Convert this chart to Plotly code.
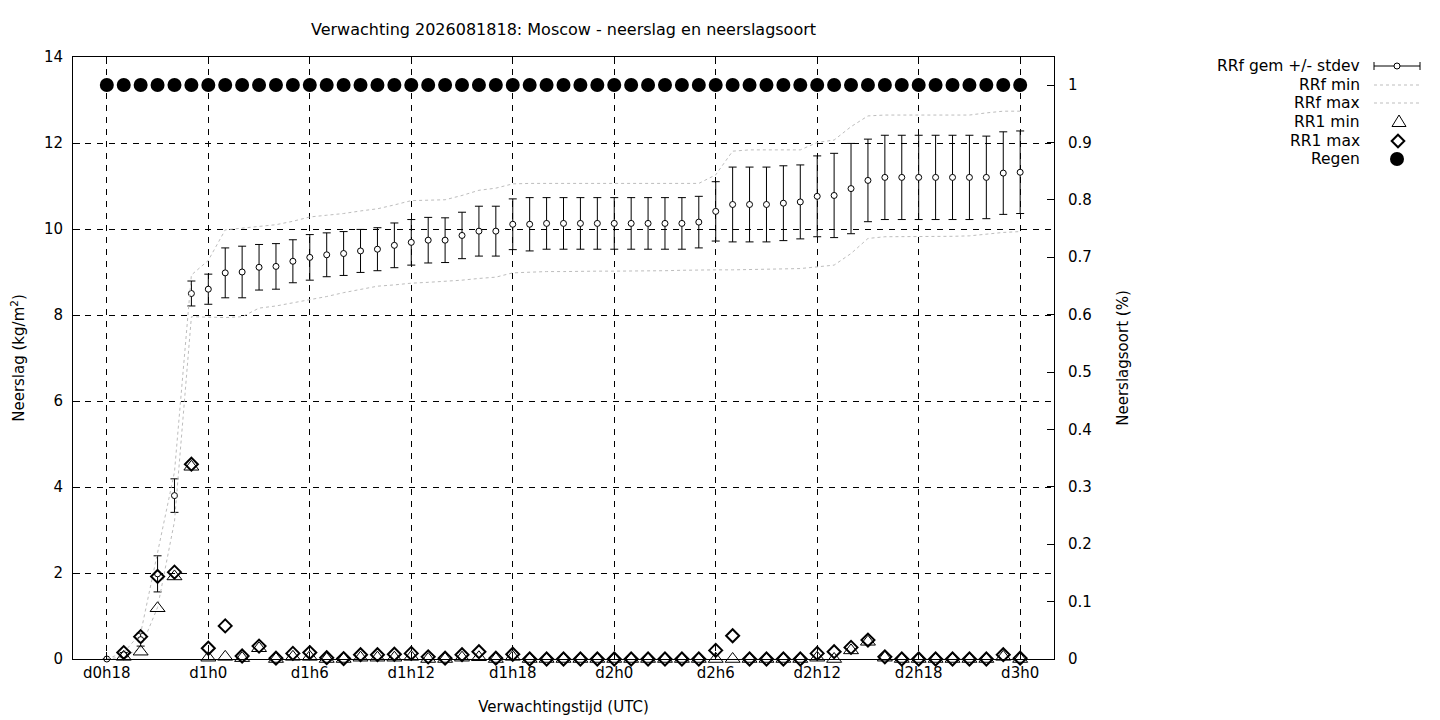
import plotly.graph_objects as go

# ---- data -------------------------------------------------------------
hours = [18, 19, 20, 21, 22, 23, 24, 25, 26, 27, 28, 29, 30, 31, 32, 33, 34, 35, 36,
         37, 38, 39, 40, 41, 42, 43, 44, 45, 46, 47, 48, 49, 50, 51, 52, 53, 54, 55,
         56, 57, 58, 59, 60, 61, 62, 63, 64, 65, 66, 67, 68, 69, 70, 71, 72]

tick_hours = [18, 24, 30, 36, 42, 48, 54, 60, 66, 72]
tick_labels = ["d0h18", "d1h0", "d1h6", "d1h12", "d1h18", "d2h0", "d2h6", "d2h12", "d2h18", "d3h0"]

rrf_mean = [0.0, 0.1, 0.45, 1.98, 3.8, 8.5, 8.6, 8.98, 9.0, 9.11, 9.13, 9.25, 9.34, 9.4,
            9.43, 9.49, 9.53, 9.62, 9.69, 9.74, 9.74, 9.85, 9.95, 9.95, 10.11, 10.11,
            10.13, 10.13, 10.13, 10.13, 10.13, 10.13, 10.13, 10.13, 10.13, 10.16, 10.41,
            10.57, 10.57, 10.57, 10.6, 10.63, 10.76, 10.78, 10.94, 11.13, 11.2, 11.2,
            11.2, 11.2, 11.2, 11.2, 11.2, 11.3, 11.32]

rrf_stdev = [0.0, 0.05, 0.15, 0.42, 0.39, 0.29, 0.35, 0.58, 0.6, 0.53, 0.53, 0.5, 0.53,
             0.51, 0.51, 0.5, 0.5, 0.52, 0.53, 0.53, 0.52, 0.54, 0.58, 0.58, 0.59, 0.62,
             0.6, 0.6, 0.6, 0.6, 0.6, 0.6, 0.6, 0.6, 0.6, 0.6, 0.69, 0.87, 0.87, 0.87,
             0.87, 0.86, 0.94, 0.98, 1.05, 0.96, 0.98, 0.98, 0.98, 0.98, 0.98, 0.98,
             0.96, 0.96, 0.96]

rrf_min = [0.0, 0.05, 0.25, 1.2, 3.2, 7.96, 7.95, 7.94, 7.96, 8.16, 8.21, 8.28, 8.35,
           8.43, 8.52, 8.6, 8.67, 8.7, 8.74, 8.76, 8.78, 8.81, 8.85, 8.88, 8.98, 9.0,
           9.01, 9.01, 9.02, 9.02, 9.02, 9.02, 9.03, 9.03, 9.04, 9.05, 9.05, 9.05, 9.06,
           9.06, 9.07, 9.08, 9.12, 9.16, 9.43, 9.78, 9.82, 9.82, 9.82, 9.82, 9.83, 9.84,
           9.88, 9.92, 9.94]

rrf_max = [0.0, 0.15, 0.6, 2.45, 4.35, 8.93, 9.27, 9.98, 10.02, 10.06, 10.1, 10.18,
           10.28, 10.32, 10.36, 10.42, 10.47, 10.56, 10.66, 10.67, 10.68, 10.78, 10.9,
           10.95, 11.05, 11.06, 11.06, 11.06, 11.06, 11.06, 11.06, 11.06, 11.06, 11.06,
           11.06, 11.06, 11.26, 11.81, 11.84, 11.84, 11.84, 11.84, 12.01, 12.07, 12.38,
           12.63, 12.65, 12.65, 12.65, 12.65, 12.65, 12.65, 12.7, 12.74, 12.74]

rr1_min = [None, 0.05, 0.17, 1.18, 1.92, 4.47, 0.03, 0.05, 0.02, 0.25, 0.0, 0.05, 0.05,
           0.0, 0.0, 0.03, 0.03, 0.03, 0.05, 0.0, 0.0, 0.03, 0.04, 0.0, 0.05, 0.0, 0.0,
           0.0, 0.0, 0.0, 0.0, 0.0, 0.0, 0.0, 0.0, 0.0, 0.0, 0.0, 0.0, 0.0, 0.0, 0.0,
           0.03, 0.0, 0.2, 0.4, 0.03, 0.0, 0.0, 0.0, 0.0, 0.0, 0.0, 0.05, 0.0]

rr1_max = [None, 0.15, 0.52, 1.92, 2.02, 4.53, 0.25, 0.77, 0.07, 0.3, 0.02, 0.13, 0.15,
           0.03, 0.01, 0.1, 0.1, 0.11, 0.13, 0.05, 0.02, 0.1, 0.17, 0.02, 0.11, 0.0,
           0.0, 0.0, 0.0, 0.0, 0.0, 0.0, 0.0, 0.0, 0.0, 0.0, 0.2, 0.54, 0.0, 0.0, 0.0,
           0.0, 0.13, 0.17, 0.27, 0.44, 0.05, 0.0, 0.0, 0.0, 0.0, 0.0, 0.0, 0.1, 0.02]

regen = [1, 1, 1, 1, 1, 1, 1, 1, 1, 1, 1, 1, 1, 1, 1, 1, 1, 1, 1, 1, 1, 1, 1, 1, 1, 1,
         1, 1, 1, 1, 1, 1, 1, 1, 1, 1, 1, 1, 1, 1, 1, 1, 1, 1, 1, 1, 1, 1, 1, 1, 1, 1,
         1, 1, 1]

legend_labels = ["RRf gem +/- stdev", "RRf min", "RRf max", "RR1 min", "RR1 max", "Regen"]

# ---- style ------------------------------------------------------------
FONT = "DejaVu Sans"
GRID_DASH = "6px,6px"
DOT_COLOR = "#bdbdbd"
OFF = 8  # page body margin offset

fig = go.Figure()

fig.add_trace(go.Scatter(
    x=hours, y=rrf_mean, mode="markers", name=legend_labels[0], cliponaxis=False,
    marker=dict(symbol="circle", size=6, color="white", line=dict(color="black", width=1)),
    error_y=dict(type="data", array=rrf_stdev, visible=True, color="black", thickness=1, width=4),
))
fig.add_trace(go.Scatter(
    x=hours, y=rrf_min, mode="lines", name=legend_labels[1],
    line=dict(color=DOT_COLOR, width=1, dash="dot"),
))
fig.add_trace(go.Scatter(
    x=hours, y=rrf_max, mode="lines", name=legend_labels[2],
    line=dict(color=DOT_COLOR, width=1, dash="dot"),
))
fig.add_trace(go.Scatter(
    x=hours, y=rr1_min, mode="markers", name=legend_labels[3], cliponaxis=False,
    marker=dict(symbol="triangle-up-open", size=13, color="black", line=dict(color="black", width=1)),
))
fig.add_trace(go.Scatter(
    x=hours, y=rr1_max, mode="markers", name=legend_labels[4], cliponaxis=False,
    marker=dict(symbol="diamond-open", size=10, color="black", line=dict(color="black", width=2)),
))
fig.add_trace(go.Scatter(
    x=hours, y=regen, mode="markers", name=legend_labels[5], yaxis="y2", cliponaxis=False,
    marker=dict(symbol="circle", size=14, color="black", line=dict(width=0)),
))

# ---- custom gnuplot-style legend (text right, sample left) -------------
L, R, T, B = 73, 1054, 57, 659   # plot area in page pixels
W, H = 1440 - OFF, 720 - OFF
def px(p):
    return (p - L) / (R - L)
def py(q):
    return (B - q) / (B - T)

rows = [66, 85, 103, 122, 141, 159]
text_right = 1362
s0, s1, sc = 1374, 1420, 1397

annotations = []
for lab, yy in zip(legend_labels, rows):
    annotations.append(dict(
        x=px(text_right), y=py(yy), xref="paper", yref="paper", text=lab,
        showarrow=False, xanchor="right", yanchor="middle",
        font=dict(family=FONT, size=15.5, color="black")))

shapes = []
shapes.append(dict(type="line", xref="paper", yref="paper", x0=px(s0), x1=px(s1),
                   y0=py(rows[0]), y1=py(rows[0]), line=dict(color="black", width=1)))
for xe in (s0, s1):
    shapes.append(dict(type="line", xref="paper", yref="paper", x0=px(xe), x1=px(xe),
                       y0=py(rows[0] - 4), y1=py(rows[0] + 4), line=dict(color="black", width=1)))
shapes.append(dict(type="circle", xref="paper", yref="paper", xsizemode="pixel", ysizemode="pixel",
                   xanchor=px(sc), yanchor=py(rows[0]), x0=-3, x1=3, y0=-3, y1=3,
                   fillcolor="white", line=dict(color="black", width=1)))
for yy in rows[1:3]:
    shapes.append(dict(type="line", xref="paper", yref="paper", x0=px(s0), x1=px(s1),
                       y0=py(yy), y1=py(yy), line=dict(color=DOT_COLOR, width=1, dash="dot")))
shapes.append(dict(type="path", xref="paper", yref="paper", xsizemode="pixel", ysizemode="pixel",
                   xanchor=px(sc + 2), yanchor=py(rows[3]),
                   path="M -7 -4.5 L 7 -4.5 L 0 7 Z", line=dict(color="black", width=1)))
shapes.append(dict(type="path", xref="paper", yref="paper", xsizemode="pixel", ysizemode="pixel",
                   xanchor=px(sc + 1), yanchor=py(rows[4]),
                   path="M -6.3 0 L 0 6.3 L 6.3 0 L 0 -6.3 Z", line=dict(color="black", width=2)))
shapes.append(dict(type="circle", xref="paper", yref="paper", xsizemode="pixel", ysizemode="pixel",
                   xanchor=px(sc), yanchor=py(rows[5]), x0=-7, x1=7, y0=-7, y1=7,
                   fillcolor="black", line=dict(color="black", width=0)))

axis_common = dict(ticks="inside", ticklen=7, tickcolor="black", tickwidth=1,
                   showline=True, linecolor="black", linewidth=1, zeroline=False,
                   tickfont=dict(family=FONT, size=15, color="black"))

fig.update_layout(
    width=W, height=H,
    margin=dict(l=L - OFF, r=W - (R - OFF), t=T - OFF, b=H - (B - OFF), autoexpand=False),
    paper_bgcolor="white", plot_bgcolor="white",
    font=dict(family=FONT, size=15, color="black"),
    showlegend=False,
    title=dict(text="Verwachting 2026081818: Moscow - neerslag en neerslagsoort",
               x=0.5, xref="paper", xanchor="center", y=1 - (29 - OFF) / H, yref="container",
               yanchor="middle", font=dict(family=FONT, size=16, color="black")),
    xaxis=dict(range=[16, 74], tickvals=tick_hours, ticktext=tick_labels, mirror="ticks",
               showgrid=True, gridcolor="black", gridwidth=1, griddash=GRID_DASH,
               title=dict(text="Verwachtingstijd (UTC)", standoff=20,
                          font=dict(family=FONT, size=15, color="black")),
               **axis_common),
    yaxis=dict(range=[0, 14], tickvals=[0, 2, 4, 6, 8, 10, 12, 14],
               showgrid=True, gridcolor="black", gridwidth=1, griddash=GRID_DASH,
               ticklabelstandoff=6,
               title=dict(text="Neerslag (kg/m<sup>2</sup>)", standoff=16,
                          font=dict(family=FONT, size=15, color="black")),
               **axis_common),
    yaxis2=dict(range=[0, 1.0488], overlaying="y", side="right",
                tickvals=[0, 0.1, 0.2, 0.3, 0.4, 0.5, 0.6, 0.7, 0.8, 0.9, 1],
                ticktext=["0", "0.1", "0.2", "0.3", "0.4", "0.5", "0.6", "0.7", "0.8", "0.9", "1"],
                showgrid=False, ticklabelstandoff=10,
                title=dict(text="Neerslagsoort (%)", standoff=26,
                           font=dict(family=FONT, size=15, color="black")),
                **axis_common),
    annotations=annotations,
    shapes=shapes,
)

fig.write_html("out.html")
